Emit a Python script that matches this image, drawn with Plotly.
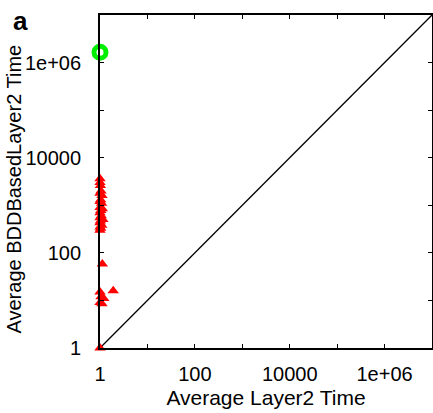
import plotly.graph_objects as go

# Red triangle series: (Layer2 time, BDDBasedLayer2 time)
red_x = [1.0, 1.0, 1.02, 0.98, 1.05, 1.0, 1.1, 0.97, 1.03, 1.0, 1.08, 0.99, 1.0, 1.12, 1.04,
         1.0, 0.98, 1.06, 1.0, 1.15, 1.02, 1.0, 0.97, 1.09, 1.0, 1.03, 1.0,
         1.12, 1.0, 1.05, 1.2, 0.98, 1.0, 1.1, 1.9, 1.0]
red_y = [3600, 3000, 2600, 2300, 2000, 1800, 1600, 1500, 1300, 1200, 1100, 1000, 900, 850, 780,
         700, 640, 600, 550, 500, 470, 430, 400, 380, 350, 330, 300,
         58, 15, 12, 11, 10, 9, 8.5, 16, 1]
green_x = [1.0]
green_y = [1.65e6]

diag_x = [1, 1e7]
diag_y = [1, 1e7]

tick_vals = [1, 10, 100, 1000, 10000, 100000, 1e6]
tick_text = ["1", "", "100", "", "10000", "", "1e+06"]

x_title = "Average Layer2 Time"
y_title = "Average BDDBasedLayer2 Time"

fig = go.Figure()
fig.add_trace(go.Scatter(x=diag_x, y=diag_y, mode="lines",
                         line=dict(color="black", width=1.3), showlegend=False))
fig.add_trace(go.Scatter(x=red_x, y=red_y, mode="markers", cliponaxis=False,
                         marker=dict(symbol="triangle-up", size=10, color="#ff0000"),
                         showlegend=False))
fig.add_trace(go.Scatter(x=green_x, y=green_y, mode="markers", cliponaxis=False,
                         marker=dict(symbol="circle-open", size=12, color="#00ee00",
                                     line=dict(width=5, color="#00ee00")),
                         showlegend=False))

axis_common = dict(type="log", range=[0, 7], tickvals=tick_vals, ticktext=tick_text,
                   ticks="inside", ticklen=4, tickcolor="black", showline=True,
                   linecolor="black", linewidth=1.8, mirror="ticks", showgrid=False,
                   zeroline=False, tickfont=dict(size=20, color="black"),
                   automargin=False)

fig.update_xaxes(**axis_common, ticklabelstandoff=7,
                 title=dict(text=x_title, font=dict(size=21, color="black"),
                            standoff=6))
fig.update_yaxes(**axis_common, ticklabelstandoff=13)

fig.add_annotation(text=y_title, xref="paper", yref="paper", x=-0.258, y=0.477,
                   xanchor="center", yanchor="middle", textangle=-90, showarrow=False,
                   font=dict(size=20, color="black"))

fig.add_annotation(text="<b>a</b>", xref="paper", yref="paper", x=-0.269, y=1.032,
                   xanchor="left", yanchor="top", showarrow=False,
                   font=dict(size=26, color="black"))

fig.update_layout(width=433, height=413, margin=dict(l=100, r=1, t=15, b=65),
                  plot_bgcolor="white", paper_bgcolor="white",
                  font=dict(family="Liberation Sans, Arial, sans-serif", color="black"))

fig.write_html("out.html")
